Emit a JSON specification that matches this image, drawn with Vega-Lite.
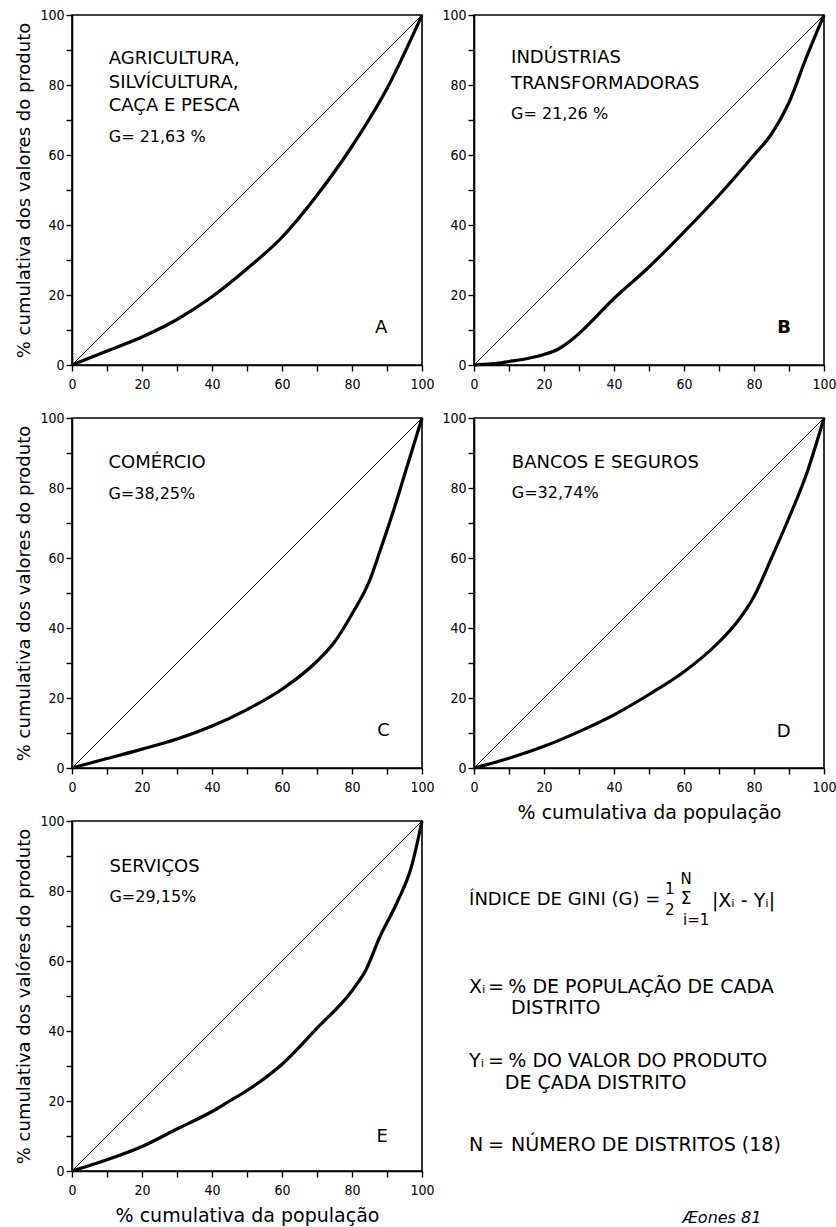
{
  "$schema": "https://vega.github.io/schema/vega-lite/v6.json",
  "padding": {"top": 7, "left": 15, "right": 0, "bottom": 0},
  "background": "white",
  "config": {
    "view": {"stroke": "black", "strokeWidth": 1.6},
    "axis": {
      "domainColor": "black", "domainWidth": 1.6, "tickColor": "black", "tickWidth": 1.4, "tickSize": 6,
      "labelFont": "DejaVu Sans Condensed", "labelFontSize": 14, "labelColor": "black",
      "titleFont": "DejaVu Sans", "titleFontWeight": "normal", "titleColor": "black",
      "grid": false, "labelFlush": false, "labelOverlap": false
    },
    "axisX": {"labelPadding": 6, "titleFontSize": 19, "titlePadding": 9},
    "axisY": {"labelPadding": 2, "titleFontSize": 18, "titlePadding": 6},
    "text": {"font": "DejaVu Sans", "color": "black"}
  },
  "datasets": {
    "diag": [{"x": 0, "y": 0}, {"x": 100, "y": 100}],
    "curves": [
      {"panel": "A", "x": 0, "y": 0}, {"panel": "A", "x": 10, "y": 4}, {"panel": "A", "x": 20, "y": 8}, {"panel": "A", "x": 30, "y": 13}, {"panel": "A", "x": 40, "y": 19.5}, {"panel": "A", "x": 50, "y": 27.5}, {"panel": "A", "x": 60, "y": 36.5}, {"panel": "A", "x": 70, "y": 48.5}, {"panel": "A", "x": 80, "y": 62.5}, {"panel": "A", "x": 90, "y": 79}, {"panel": "A", "x": 100, "y": 100},
      {"panel": "B", "x": 0, "y": 0}, {"panel": "B", "x": 5, "y": 0.3}, {"panel": "B", "x": 10, "y": 1}, {"panel": "B", "x": 15, "y": 1.8}, {"panel": "B", "x": 20, "y": 3}, {"panel": "B", "x": 24, "y": 4.5}, {"panel": "B", "x": 27, "y": 6.5}, {"panel": "B", "x": 30, "y": 9}, {"panel": "B", "x": 40, "y": 19}, {"panel": "B", "x": 50, "y": 28}, {"panel": "B", "x": 60, "y": 38}, {"panel": "B", "x": 70, "y": 48.5}, {"panel": "B", "x": 80, "y": 60}, {"panel": "B", "x": 85, "y": 66}, {"panel": "B", "x": 90, "y": 75}, {"panel": "B", "x": 95, "y": 88}, {"panel": "B", "x": 100, "y": 100},
      {"panel": "C", "x": 0, "y": 0}, {"panel": "C", "x": 10, "y": 2.7}, {"panel": "C", "x": 20, "y": 5.4}, {"panel": "C", "x": 30, "y": 8.3}, {"panel": "C", "x": 40, "y": 12}, {"panel": "C", "x": 50, "y": 16.7}, {"panel": "C", "x": 60, "y": 22.5}, {"panel": "C", "x": 70, "y": 30.5}, {"panel": "C", "x": 75, "y": 36}, {"panel": "C", "x": 80, "y": 44}, {"panel": "C", "x": 85, "y": 53.5}, {"panel": "C", "x": 88, "y": 62}, {"panel": "C", "x": 92, "y": 74}, {"panel": "C", "x": 96, "y": 87}, {"panel": "C", "x": 100, "y": 100},
      {"panel": "D", "x": 0, "y": 0}, {"panel": "D", "x": 10, "y": 2.8}, {"panel": "D", "x": 20, "y": 6.2}, {"panel": "D", "x": 30, "y": 10.4}, {"panel": "D", "x": 40, "y": 15.2}, {"panel": "D", "x": 50, "y": 21}, {"panel": "D", "x": 60, "y": 27.5}, {"panel": "D", "x": 70, "y": 36}, {"panel": "D", "x": 75, "y": 41.5}, {"panel": "D", "x": 80, "y": 49}, {"panel": "D", "x": 85, "y": 60}, {"panel": "D", "x": 90, "y": 71.5}, {"panel": "D", "x": 95, "y": 84}, {"panel": "D", "x": 100, "y": 100},
      {"panel": "E", "x": 0, "y": 0}, {"panel": "E", "x": 10, "y": 3.2}, {"panel": "E", "x": 20, "y": 7}, {"panel": "E", "x": 30, "y": 12}, {"panel": "E", "x": 40, "y": 17}, {"panel": "E", "x": 45, "y": 20}, {"panel": "E", "x": 50, "y": 23}, {"panel": "E", "x": 60, "y": 30.5}, {"panel": "E", "x": 70, "y": 40.8}, {"panel": "E", "x": 80, "y": 51.5}, {"panel": "E", "x": 84, "y": 57.5}, {"panel": "E", "x": 88, "y": 67}, {"panel": "E", "x": 93, "y": 77}, {"panel": "E", "x": 97, "y": 87}, {"panel": "E", "x": 100, "y": 100}
    ],
    "labels": [
      {"panel": "A", "kind": "title", "x": 10.5, "y": 87.5, "text": "AGRICULTURA,"},
      {"panel": "A", "kind": "title", "x": 10.5, "y": 80.6, "text": "SILVÍCULTURA,"},
      {"panel": "A", "kind": "title", "x": 10.5, "y": 73.9, "text": "CAÇA E PESCA"},
      {"panel": "A", "kind": "g", "x": 10.5, "y": 65.2, "text": "G= 21,63 %"},
      {"panel": "A", "kind": "letter", "x": 88.3, "y": 10.7, "text": "A"},
      {"panel": "B", "kind": "title", "x": 10.6, "y": 87.7, "text": "INDÚSTRIAS"},
      {"panel": "B", "kind": "title", "x": 10.6, "y": 80.4, "text": "TRANSFORMADORAS"},
      {"panel": "B", "kind": "g", "x": 10.6, "y": 71.8, "text": "G= 21,26 %"},
      {"panel": "B", "kind": "letter", "x": 88.6, "y": 10.6, "text": "B"},
      {"panel": "C", "kind": "title", "x": 10.4, "y": 87.2, "text": "COMÉRCIO"},
      {"panel": "C", "kind": "g", "x": 10.4, "y": 78.2, "text": "G=38,25%"},
      {"panel": "C", "kind": "letter", "x": 89, "y": 10.6, "text": "C"},
      {"panel": "D", "kind": "title", "x": 10.8, "y": 87.2, "text": "BANCOS E SEGUROS"},
      {"panel": "D", "kind": "g", "x": 10.8, "y": 78.7, "text": "G=32,74%"},
      {"panel": "D", "kind": "letter", "x": 88.5, "y": 10.4, "text": "D"},
      {"panel": "E", "kind": "title", "x": 10.7, "y": 86.8, "text": "SERVIÇOS"},
      {"panel": "E", "kind": "g", "x": 10.7, "y": 78.3, "text": "G=29,15%"},
      {"panel": "E", "kind": "letter", "x": 88.6, "y": 9.7, "text": "E"}
    ],
    "formula": [
      {"kind": "head", "x": -1.4, "y": 77.4, "text": "ÍNDICE DE GINI (G) ="},
      {"kind": "small", "x": 55.9, "y": 80.6, "text": "1"},
      {"kind": "small", "x": 55.9, "y": 74.6, "text": "2"},
      {"kind": "sigma", "x": 60.6, "y": 77.6, "text": "Σ"},
      {"kind": "small", "x": 60.6, "y": 83.4, "text": "N"},
      {"kind": "small", "x": 63.5, "y": 71.7, "text": "i=1"},
      {"kind": "headc", "x": 77, "y": 77.2, "text": "|Xᵢ - Yᵢ|"},
      {"kind": "main", "x": -1.4, "y": 52.6, "text": "Xᵢ"},
      {"kind": "main", "x": 4, "y": 52.6, "text": "="},
      {"kind": "main", "x": 9.8, "y": 52.6, "text": "% DE POPULAÇÃO DE CADA"},
      {"kind": "main", "x": 10.6, "y": 46.6, "text": "DISTRITO"},
      {"kind": "main", "x": -1.4, "y": 31.4, "text": "Yᵢ"},
      {"kind": "main", "x": 4, "y": 31.4, "text": "="},
      {"kind": "main", "x": 9.8, "y": 31.4, "text": "% DO VALOR DO PRODUTO"},
      {"kind": "main", "x": 8.8, "y": 25.1, "text": "DE ÇADA DISTRITO"},
      {"kind": "main", "x": -1.4, "y": 7.4, "text": "N"},
      {"kind": "main", "x": 4, "y": 7.4, "text": "="},
      {"kind": "main", "x": 10.6, "y": 7.4, "text": "NÚMERO DE DISTRITOS (18)"},
      {"kind": "sig", "x": 59.5, "y": -13.3, "text": "Æones 81"}
    ]
  },
  "concat": [
    {
      "width": 350, "height": 350,
      "encoding": {
        "x": {"field": "x", "type": "quantitative", "scale": {"domain": [0, 100], "nice": false}, "axis": {"title": null, "values": [0,10,20,30,40,50,60,70,80,90,100], "labelExpr": "datum.value % 20 === 0 ? datum.label : ''"}},
        "y": {"field": "y", "type": "quantitative", "scale": {"domain": [0, 100], "nice": false}, "axis": {"title": "% cumulativa dos valores do produto", "values": [0,10,20,30,40,50,60,70,80,90,100], "labelExpr": "datum.value % 20 === 0 ? datum.label : ''"}}
      },
      "layer": [
        {"data": {"name": "diag"}, "mark": {"type": "line", "color": "black", "strokeWidth": 1}},
        {"data": {"name": "curves"}, "transform": [{"filter": "datum.panel === 'A'"}], "mark": {"type": "line", "color": "black", "strokeWidth": 3.2, "interpolate": "monotone"}},
        {"data": {"name": "labels"}, "transform": [{"filter": "datum.panel === 'A' && datum.kind === 'title'"}], "mark": {"type": "text", "align": "left", "baseline": "middle", "fontSize": 18}, "encoding": {"text": {"field": "text"}}},
        {"data": {"name": "labels"}, "transform": [{"filter": "datum.panel === 'A' && datum.kind === 'g'"}], "mark": {"type": "text", "align": "left", "baseline": "middle", "fontSize": 16}, "encoding": {"text": {"field": "text"}}},
        {"data": {"name": "labels"}, "transform": [{"filter": "datum.panel === 'A' && datum.kind === 'letter'"}], "mark": {"type": "text", "align": "center", "baseline": "middle", "fontSize": 18}, "encoding": {"text": {"field": "text"}}}
      ]
    },
    {
      "width": 350, "height": 350,
      "encoding": {
        "x": {"field": "x", "type": "quantitative", "scale": {"domain": [0, 100], "nice": false}, "axis": {"title": null, "values": [0,10,20,30,40,50,60,70,80,90,100], "labelExpr": "datum.value % 20 === 0 ? datum.label : ''"}},
        "y": {"field": "y", "type": "quantitative", "scale": {"domain": [0, 100], "nice": false}, "axis": {"title": null, "values": [0,10,20,30,40,50,60,70,80,90,100], "labelExpr": "datum.value % 20 === 0 ? datum.label : ''"}}
      },
      "layer": [
        {"data": {"name": "diag"}, "mark": {"type": "line", "color": "black", "strokeWidth": 1}},
        {"data": {"name": "curves"}, "transform": [{"filter": "datum.panel === 'B'"}], "mark": {"type": "line", "color": "black", "strokeWidth": 3.2, "interpolate": "monotone"}},
        {"data": {"name": "labels"}, "transform": [{"filter": "datum.panel === 'B' && datum.kind === 'title'"}], "mark": {"type": "text", "align": "left", "baseline": "middle", "fontSize": 18}, "encoding": {"text": {"field": "text"}}},
        {"data": {"name": "labels"}, "transform": [{"filter": "datum.panel === 'B' && datum.kind === 'g'"}], "mark": {"type": "text", "align": "left", "baseline": "middle", "fontSize": 16}, "encoding": {"text": {"field": "text"}}},
        {"data": {"name": "labels"}, "transform": [{"filter": "datum.panel === 'B' && datum.kind === 'letter'"}], "mark": {"type": "text", "align": "center", "baseline": "middle", "fontSize": 18, "fontWeight": "bold"}, "encoding": {"text": {"field": "text"}}}
      ]
    },
    {
      "width": 350, "height": 350,
      "encoding": {
        "x": {"field": "x", "type": "quantitative", "scale": {"domain": [0, 100], "nice": false}, "axis": {"title": null, "values": [0,10,20,30,40,50,60,70,80,90,100], "labelExpr": "datum.value % 20 === 0 ? datum.label : ''"}},
        "y": {"field": "y", "type": "quantitative", "scale": {"domain": [0, 100], "nice": false}, "axis": {"title": "% cumulativa dos valores do produto", "values": [0,10,20,30,40,50,60,70,80,90,100], "labelExpr": "datum.value % 20 === 0 ? datum.label : ''"}}
      },
      "layer": [
        {"data": {"name": "diag"}, "mark": {"type": "line", "color": "black", "strokeWidth": 1}},
        {"data": {"name": "curves"}, "transform": [{"filter": "datum.panel === 'C'"}], "mark": {"type": "line", "color": "black", "strokeWidth": 3.2, "interpolate": "monotone"}},
        {"data": {"name": "labels"}, "transform": [{"filter": "datum.panel === 'C' && datum.kind === 'title'"}], "mark": {"type": "text", "align": "left", "baseline": "middle", "fontSize": 18}, "encoding": {"text": {"field": "text"}}},
        {"data": {"name": "labels"}, "transform": [{"filter": "datum.panel === 'C' && datum.kind === 'g'"}], "mark": {"type": "text", "align": "left", "baseline": "middle", "fontSize": 16}, "encoding": {"text": {"field": "text"}}},
        {"data": {"name": "labels"}, "transform": [{"filter": "datum.panel === 'C' && datum.kind === 'letter'"}], "mark": {"type": "text", "align": "center", "baseline": "middle", "fontSize": 18}, "encoding": {"text": {"field": "text"}}}
      ]
    },
    {
      "width": 350, "height": 350,
      "encoding": {
        "x": {"field": "x", "type": "quantitative", "scale": {"domain": [0, 100], "nice": false}, "axis": {"title": "% cumulativa da população", "values": [0,10,20,30,40,50,60,70,80,90,100], "labelExpr": "datum.value % 20 === 0 ? datum.label : ''"}},
        "y": {"field": "y", "type": "quantitative", "scale": {"domain": [0, 100], "nice": false}, "axis": {"title": null, "values": [0,10,20,30,40,50,60,70,80,90,100], "labelExpr": "datum.value % 20 === 0 ? datum.label : ''"}}
      },
      "layer": [
        {"data": {"name": "diag"}, "mark": {"type": "line", "color": "black", "strokeWidth": 1}},
        {"data": {"name": "curves"}, "transform": [{"filter": "datum.panel === 'D'"}], "mark": {"type": "line", "color": "black", "strokeWidth": 3.2, "interpolate": "monotone"}},
        {"data": {"name": "labels"}, "transform": [{"filter": "datum.panel === 'D' && datum.kind === 'title'"}], "mark": {"type": "text", "align": "left", "baseline": "middle", "fontSize": 18}, "encoding": {"text": {"field": "text"}}},
        {"data": {"name": "labels"}, "transform": [{"filter": "datum.panel === 'D' && datum.kind === 'g'"}], "mark": {"type": "text", "align": "left", "baseline": "middle", "fontSize": 16}, "encoding": {"text": {"field": "text"}}},
        {"data": {"name": "labels"}, "transform": [{"filter": "datum.panel === 'D' && datum.kind === 'letter'"}], "mark": {"type": "text", "align": "center", "baseline": "middle", "fontSize": 18}, "encoding": {"text": {"field": "text"}}}
      ]
    },
    {
      "width": 350, "height": 350,
      "encoding": {
        "x": {"field": "x", "type": "quantitative", "scale": {"domain": [0, 100], "nice": false}, "axis": {"title": "% cumulativa da população", "values": [0,10,20,30,40,50,60,70,80,90,100], "labelExpr": "datum.value % 20 === 0 ? datum.label : ''"}},
        "y": {"field": "y", "type": "quantitative", "scale": {"domain": [0, 100], "nice": false}, "axis": {"title": "% cumulativa dos valóres do produto", "values": [0,10,20,30,40,50,60,70,80,90,100], "labelExpr": "datum.value % 20 === 0 ? datum.label : ''"}}
      },
      "layer": [
        {"data": {"name": "diag"}, "mark": {"type": "line", "color": "black", "strokeWidth": 1}},
        {"data": {"name": "curves"}, "transform": [{"filter": "datum.panel === 'E'"}], "mark": {"type": "line", "color": "black", "strokeWidth": 3.2, "interpolate": "monotone"}},
        {"data": {"name": "labels"}, "transform": [{"filter": "datum.panel === 'E' && datum.kind === 'title'"}], "mark": {"type": "text", "align": "left", "baseline": "middle", "fontSize": 18}, "encoding": {"text": {"field": "text"}}},
        {"data": {"name": "labels"}, "transform": [{"filter": "datum.panel === 'E' && datum.kind === 'g'"}], "mark": {"type": "text", "align": "left", "baseline": "middle", "fontSize": 16}, "encoding": {"text": {"field": "text"}}},
        {"data": {"name": "labels"}, "transform": [{"filter": "datum.panel === 'E' && datum.kind === 'letter'"}], "mark": {"type": "text", "align": "center", "baseline": "middle", "fontSize": 18}, "encoding": {"text": {"field": "text"}}}
      ]
    },
    {
      "width": 350, "height": 350,
      "view": {"stroke": null},
      "data": {"name": "formula"},
      "encoding": {
        "x": {"field": "x", "type": "quantitative", "scale": {"domain": [0, 100], "nice": false}, "axis": null},
        "y": {"field": "y", "type": "quantitative", "scale": {"domain": [0, 100], "nice": false}, "axis": null},
        "text": {"field": "text"}
      },
      "layer": [
        {"transform": [{"filter": "datum.kind === 'head'"}], "mark": {"type": "text", "align": "left", "baseline": "middle", "fontSize": 18}},
        {"transform": [{"filter": "datum.kind === 'headc'"}], "mark": {"type": "text", "align": "center", "baseline": "middle", "fontSize": 19}},
        {"transform": [{"filter": "datum.kind === 'main'"}], "mark": {"type": "text", "align": "left", "baseline": "middle", "fontSize": 19}},
        {"transform": [{"filter": "datum.kind === 'small'"}], "mark": {"type": "text", "align": "center", "baseline": "middle", "fontSize": 15}},
        {"transform": [{"filter": "datum.kind === 'sigma'"}], "mark": {"type": "text", "align": "center", "baseline": "middle", "fontSize": 17}},
        {"transform": [{"filter": "datum.kind === 'sig'"}], "mark": {"type": "text", "align": "left", "baseline": "middle", "fontSize": 16, "fontStyle": "italic"}}
      ]
    }
  ],
  "columns": 2,
  "spacing": {"row": 53, "column": 52},
  "bounds": "flush"
}
